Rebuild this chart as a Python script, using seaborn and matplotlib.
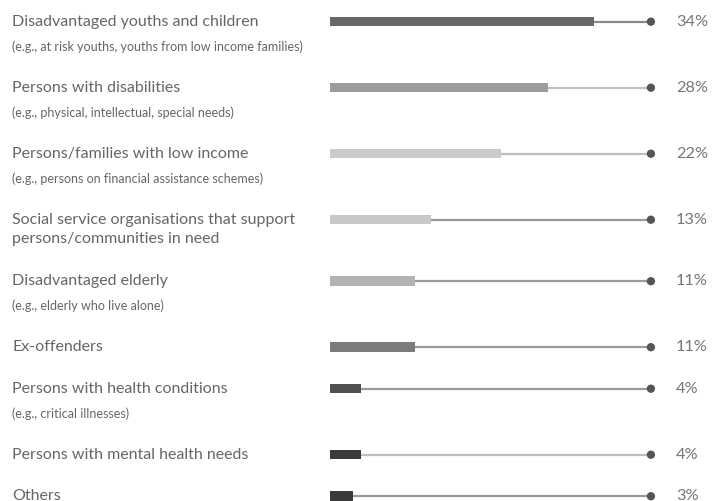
import matplotlib
matplotlib.use("Agg")
import matplotlib.pyplot as plt
import matplotlib.transforms as mtransforms
import seaborn as sns
import pandas as pd

# ---- data ----
categories = [
    "Disadvantaged youths and children",
    "Persons with disabilities",
    "Persons/families with low income",
    "Social service organisations that support\npersons/communities in need",
    "Disadvantaged elderly",
    "Ex-offenders",
    "Persons with health conditions",
    "Persons with mental health needs",
    "Others",
]
subtitles = [
    "(e.g., at risk youths, youths from low income families)",
    "(e.g., physical, intellectual, special needs)",
    "(e.g., persons on financial assistance schemes)",
    "",
    "(e.g., elderly who live alone)",
    "",
    "(e.g., critical illnesses)",
    "",
    "",
]
values = [34, 28, 22, 13, 11, 11, 4, 4, 3]
value_labels = ["34%", "28%", "22%", "13%", "11%", "11%", "4%", "4%", "3%"]

# ---- styles ----
bar_colors = ["#686868", "#9c9c9c", "#cacaca", "#c8c8c8", "#b2b2b2",
              "#7c7c7c", "#505050", "#3a3a3a", "#3a3a3a"]
track_colors = ["#8a8a8a", "#bdbdbd", "#bdbdbd", "#9a9a9a", "#9a9a9a",
                "#9a9a9a", "#9a9a9a", "#bdbdbd", "#9a9a9a"]
text_color = "#666666"
dot_color = "#555555"
track_end = 41.3

sns.set_theme(style="white")
plt.rcParams["font.family"] = ["Lato", "DejaVu Sans"]

W, H = 714, 501
fig = plt.figure(figsize=(W / 100, H / 100), dpi=100)
ax = fig.add_axes([0, 0, 1, 1])

# layout: row spacing depends on the number of text lines in a row
px_per_pct = 7.77
x0_px = 330
ypos = []
y = 21.7
for i, (c, s) in enumerate(zip(categories, subtitles)):
    ypos.append(y)
    if s:
        y += 66
    elif "\n" in c:
        y += 61.5
    else:
        y += 41.5

df = pd.DataFrame({"cat": categories, "value": values, "y": ypos})

# tracks
ax.hlines(ypos, 0, track_end, colors=track_colors, linewidth=1.6, zorder=0.5)

sns.barplot(data=df, x="value", y="y", hue="cat", palette=bar_colors,
            orient="h", native_scale=True, dodge=False, legend=False,
            width=9.5 / 41.5, saturation=1, linewidth=0, ax=ax)

sns.scatterplot(x=[track_end] * len(values), y=ypos, color=dot_color,
                s=36, edgecolor="none", zorder=3, ax=ax, legend=False)

ax.set_xlim(-x0_px / px_per_pct, (W - x0_px) / px_per_pct)
ax.set_ylim(H, 0)
ax.axis("off")

trans = mtransforms.blended_transform_factory(ax.transAxes, ax.transData)
for c, s, yy, lab in zip(categories, subtitles, ypos, value_labels):
    lines = c.split("\n")
    for k, ln in enumerate(lines):
        ax.text(12 / W, yy + k * 19.5, ln, transform=trans, ha="left", va="center",
                fontsize=11.5, color=text_color)
    if s:
        ax.text(12 / W, yy + 25, s, transform=trans, ha="left", va="center",
                fontsize=9.0, color=text_color)
    ax.text(676 / W, yy, lab, transform=trans, ha="left", va="center",
            fontsize=11.8, color="#777777")

fig.savefig("out.png", dpi=100)
